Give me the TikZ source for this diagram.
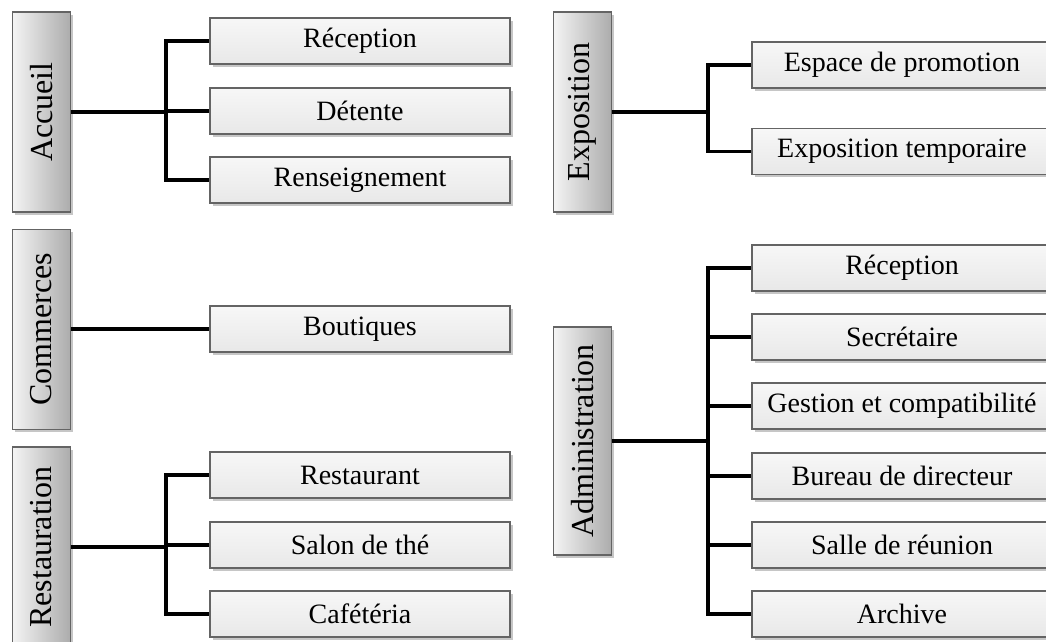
\documentclass[tikz,border=0pt]{standalone}
\definecolor{boxline}{RGB}{100,100,100}
\definecolor{catlight}{RGB}{244,244,244}
\definecolor{catdark}{RGB}{172,172,172}
\definecolor{leaflight}{RGB}{247,247,247}
\definecolor{leafdark}{RGB}{232,232,232}
\usepackage{fontspec}
\setmainfont{Liberation Serif}
\usepackage{tikz}
\usetikzlibrary{shadows,calc}

\begin{document}
\begin{tikzpicture}[x=1pt,y=-1pt,
  cat/.style={draw=boxline,line width=1.6pt,left color=catlight,right color=catdark,
              minimum width=58pt,minimum height=200pt,inner sep=0pt,
              font=\fontsize{32}{36}\selectfont,
              drop shadow={shadow xshift=2.5pt,shadow yshift=-2.5pt,opacity=0.45}},
  leaf/.style={draw=boxline,line width=1.6pt,top color=leaflight,bottom color=leafdark,
               minimum width=300pt,minimum height=46pt,inner sep=0pt,
               font=\fontsize{28}{32}\selectfont,
               drop shadow={shadow xshift=2.5pt,shadow yshift=-2.5pt,opacity=0.45}},
  conn/.style={line width=3.4pt,black}
]
  \useasboundingbox (0,0) rectangle (1046,641);

  \node[cat] (acc) at (41.5,112) {\rotatebox{90}{Accueil}};
  \node[leaf] (acc-rec) at (360,41) {Réception};
  \node[leaf] (acc-det) at (360,111) {Détente};
  \node[leaf] (acc-ren) at (360,180) {Renseignement};

  \node[cat] (com) at (41.5,329.5) {\rotatebox{90}{Commerces}};
  \node[leaf] (com-bou) at (360,329) {Boutiques};

  \node[cat] (res) at (41.5,547) {\rotatebox{90}{Restauration}};
  \node[leaf] (res-rest) at (360,475) {Restaurant};
  \node[leaf] (res-sal) at (360,545) {Salon de thé};
  \node[leaf] (res-caf) at (360,614) {Cafétéria};

  \node[cat] (exp) at (582.5,112) {\rotatebox{90}{Exposition}};
  \node[leaf] (exp-esp) at (902,65) {Espace de promotion};
  \node[leaf] (exp-tem) at (902,151.5) {Exposition temporaire};

  \node[cat,minimum height=228pt] (adm) at (582.5,441) {\rotatebox{90}{Administration}};
  \node[leaf] (adm-rec) at (902,268) {Réception};
  \node[leaf] (adm-sec) at (902,337) {Secrétaire};
  \node[leaf] (adm-ges) at (902,406) {Gestion et compatibilité};
  \node[leaf] (adm-bur) at (902,476) {Bureau de directeur};
  \node[leaf] (adm-sal) at (902,545) {Salle de réunion};
  \node[leaf] (adm-arc) at (902,614) {Archive};

  \coordinate (acc-j) at (166,112);
  \coordinate (res-j) at (166,547);
  \coordinate (exp-j) at (708,112);
  \coordinate (adm-j) at (708,441);

  \draw[conn] (acc.east) -- (acc-j);
  \draw[conn] (acc-j) |- (acc-rec.west);
  \draw[conn] (acc-j) |- (acc-det.west);
  \draw[conn] (acc-j) |- (acc-ren.west);

  \draw[conn] (com.east |- com-bou) -- (com-bou.west);

  \draw[conn] (res.east) -- (res-j);
  \draw[conn] (res-j) |- (res-rest.west);
  \draw[conn] (res-j) |- (res-sal.west);
  \draw[conn] (res-j) |- (res-caf.west);

  \draw[conn] (exp.east) -- (exp-j);
  \draw[conn] (exp-j) |- (exp-esp.west);
  \draw[conn] (exp-j) |- (exp-tem.west);

  \draw[conn] (adm.east) -- (adm-j);
  \draw[conn] (adm-j) |- (adm-rec.west);
  \draw[conn] (adm-j) |- (adm-sec.west);
  \draw[conn] (adm-j) |- (adm-ges.west);
  \draw[conn] (adm-j) |- (adm-bur.west);
  \draw[conn] (adm-j) |- (adm-sal.west);
  \draw[conn] (adm-j) |- (adm-arc.west);
\end{tikzpicture}
\end{document}
